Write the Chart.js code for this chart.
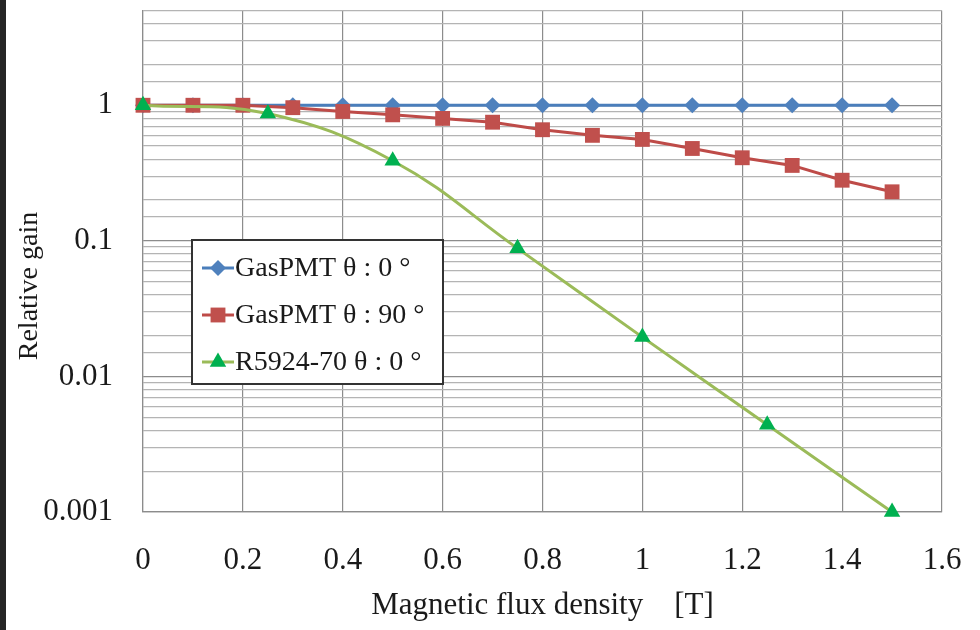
<!DOCTYPE html>
<html>
<head>
<meta charset="utf-8">
<script src="https://cdn.jsdelivr.net/npm/chart.js@4.4.1/dist/chart.umd.min.js"></script>
<style>
  body { margin: 0; background: #fff; }
  #wrap { position: relative; width: 980px; height: 630px; }
  #edge { position: absolute; left: 0; top: 0; width: 6px; height: 630px; background: #262626; }
</style>
</head>
<body>
<div id="wrap">
  <canvas id="gainChart" width="980" height="630"></canvas>
  <div id="edge"></div>
</div>
<script>
// --- DATA ---
const fluxSteps = [0, 0.1, 0.2, 0.3, 0.4, 0.5, 0.6, 0.7, 0.8, 0.9, 1.0, 1.1, 1.2, 1.3, 1.4, 1.5];
const gasPmt0 = [1, 1, 1, 1, 1, 1, 1, 1, 1, 1, 1, 1, 1, 1, 1, 1];
const gasPmt90 = [1, 1, 1, 0.96, 0.9, 0.85, 0.8, 0.75, 0.66, 0.6, 0.56, 0.48, 0.41, 0.36, 0.28, 0.23];
const r5924Flux = [0, 0.25, 0.5, 0.75, 1.0, 1.25, 1.5];
const r5924Gain = [1, 0.87, 0.39, 0.088, 0.0195, 0.0044, 0.001];
const seriesNames = ['GasPMT θ : 0 °', 'GasPMT θ : 90 °', 'R5924-70 θ : 0 °'];
const yTickLabels = [0.001, 0.01, 0.1, 1];
const xTickLabels = [0, 0.2, 0.4, 0.6, 0.8, 1, 1.2, 1.4, 1.6];
const yTitle = 'Relative gain';

const serif = "'Liberation Serif', 'DejaVu Serif', serif";

function pairs(xs, ys) {
    return xs.map((x, i) => ({ x: x, y: ys[i] }));
}

// legend box + y title, drawn by hand (Excel puts them where Chart.js won't)
const boxLegend = {
    id: 'boxLegend',
    afterDraw(chart) {
        const ctx = chart.ctx;
        const left = 192, top = 240, w = 251, h = 144;
        ctx.save();
        ctx.fillStyle = '#fff';
        ctx.fillRect(left, top, w, h);
        ctx.strokeStyle = '#333';
        ctx.lineWidth = 2;
        ctx.strokeRect(left, top, w, h);
        ctx.font = '28px ' + serif;
        ctx.textBaseline = 'middle';
        chart.data.datasets.forEach((ds, i) => {
            const y = top + 28 + i * 47;
            ctx.strokeStyle = ds.borderColor;
            ctx.lineWidth = 3;
            ctx.beginPath();
            ctx.moveTo(left + 10, y);
            ctx.lineTo(left + 42, y);
            ctx.stroke();
            ctx.fillStyle = ds.pointBackgroundColor;
            Chart.helpers.drawPoint(ctx, {
                pointStyle: ds.pointStyle,
                radius: ds.pointRadius,
                borderWidth: 0
            }, left + 26, y);
            ctx.fillStyle = '#1a1a1a';
            ctx.fillText(ds.label, left + 43, y + 1);
        });

        // y axis title
        ctx.translate(30, 286);
        ctx.rotate(-Math.PI / 2);
        ctx.textAlign = 'center';
        ctx.font = '28px ' + serif;
        ctx.fillText(yTitle, 0, 0);
        ctx.restore();
    }
};

new Chart(document.getElementById('gainChart'), {
    type: 'line',
    data: {
        datasets: [
            {
                label: seriesNames[0],
                data: pairs(fluxSteps, gasPmt0),
                borderColor: '#4a7ebb',
                borderWidth: 3,
                pointStyle: 'rectRot',
                pointRadius: 8,
                pointBackgroundColor: '#4f81bd',
                pointBorderWidth: 0,
                tension: 0,
                clip: false,
                order: 3
            },
            {
                label: seriesNames[1],
                data: pairs(fluxSteps, gasPmt90),
                borderColor: '#be4b48',
                borderWidth: 3,
                pointStyle: 'rect',
                pointRadius: 10.5,
                pointBackgroundColor: '#c0504d',
                pointBorderWidth: 0,
                tension: 0,
                clip: false,
                order: 2
            },
            {
                label: seriesNames[2],
                data: pairs(r5924Flux, r5924Gain),
                borderColor: '#9bbb59',
                borderWidth: 3,
                pointStyle: 'triangle',
                pointRadius: 9.5,
                pointBackgroundColor: '#00b050',
                pointBorderWidth: 0,
                tension: 0.4,
                clip: false,
                order: 1
            }
        ]
    },
    options: {
        responsive: false,
        animation: false,
        layout: { padding: { left: 0, right: 38, top: 8, bottom: 0 } },
        plugins: { legend: { display: false }, tooltip: { enabled: false } },
        scales: {
            x: {
                type: 'linear',
                min: 0,
                max: 1.6,
                afterFit(scale) {
                    scale.height = 118;
                    scale.paddingLeft = 0;
                    scale.paddingRight = 0;
                },
                afterBuildTicks(scale) { scale.ticks = xTickLabels.map(v => ({ value: v })); },
                grid: { color: '#8c8c8c', lineWidth: 1.2, drawTicks: false },
                border: { color: '#8c8c8c', width: 1.2 },
                ticks: {
                    color: '#1a1a1a',
                    font: { family: serif, size: 31 },
                    padding: 30,
                    callback: v => String(v)
                },
                title: {
                    display: true,
                    text: 'Magnetic flux density　[T]',
                    color: '#1a1a1a',
                    font: { family: serif, size: 31 },
                    padding: { top: 0, bottom: 6 }
                }
            },
            y: {
                type: 'logarithmic',
                min: 0.001,
                max: 5,
                afterFit(scale) {
                    scale.width = 143;
                    scale.paddingTop = 0;
                    scale.paddingBottom = 0;
                },
                grid: {
                    color: c => yTickLabels.includes(c.tick.value) ? '#8c8c8c' : '#b4b4b4',
                    lineWidth: 1.2,
                    drawTicks: false
                },
                border: { color: '#8c8c8c', width: 1.2 },
                ticks: {
                    autoSkip: false,
                    color: '#1a1a1a',
                    font: { family: serif, size: 31 },
                    padding: 30,
                    callback: v => yTickLabels.includes(v) ? String(v) : ''
                }
            }
        }
    },
    plugins: [boxLegend]
});
</script>
</body>
</html>
